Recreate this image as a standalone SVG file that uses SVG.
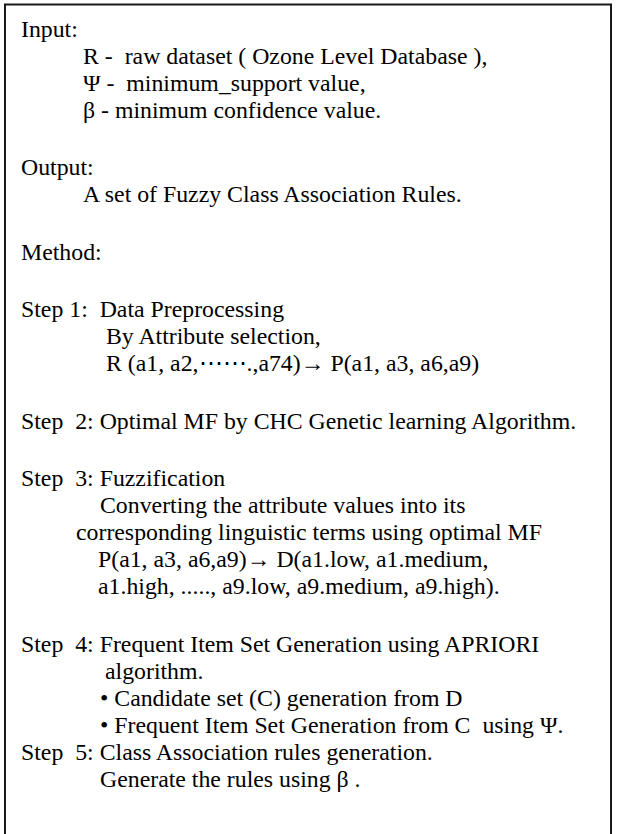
<svg xmlns="http://www.w3.org/2000/svg" width="617" height="834" viewBox="0 0 617 834" xml:space="preserve">
<style>
.t{font-family:"Liberation Serif","Times New Roman",serif;font-size:23.8px;fill:#000;white-space:pre}
.frame{fill:none;stroke:#1a1a1a;stroke-width:2}
</style>
<rect width="617" height="834" fill="#fff"/>
<g id="frame"><path class="frame" d="M5,840 V4.5 H611 V840"/></g>
<g id="input">
<text class="t" x="21" y="37">Input:</text>
<text class="t" x="83" y="64">R -  raw dataset ( Ozone Level Database ),</text>
<text class="t" x="83" y="91">Ψ -  minimum_support value,</text>
<text class="t" x="83" y="118">β - minimum confidence value.</text>
</g>
<g id="output">
<text class="t" x="21" y="175">Output:</text>
<text class="t" x="83" y="202">A set of Fuzzy Class Association Rules.</text>
</g>
<g id="method">
<text class="t" x="21" y="260">Method:</text>
</g>
<g id="step1">
<text class="t" x="21" y="317">Step 1:  Data Preprocessing</text>
<text class="t" x="106" y="344">By Attribute selection,</text>
<text class="t" x="106" y="371">R (a1, a2,⋯⋯.,a74)→ P(a1, a3, a6,a9)</text>
</g>
<g id="step2">
<text class="t" x="21" y="429">Step  2: Optimal MF by CHC Genetic learning Algorithm.</text>
</g>
<g id="step3">
<text class="t" x="21" y="486">Step  3: Fuzzification</text>
<text class="t" x="100" y="513">Converting the attribute values into its</text>
<text class="t" x="76" y="540">corresponding linguistic terms using optimal MF</text>
<text class="t" x="98" y="567">P(a1, a3, a6,a9)→ D(a1.low, a1.medium,</text>
<text class="t" x="98" y="594">a1.high, ....., a9.low, a9.medium, a9.high).</text>
</g>
<g id="step4">
<text class="t" x="21" y="652">Step  4: Frequent Item Set Generation using APRIORI</text>
<text class="t" x="105" y="679">algorithm.</text>
<text class="t" x="100" y="706">• Candidate set (C) generation from D</text>
<text class="t" x="100" y="733">• Frequent Item Set Generation from C  using Ψ.</text>
</g>
<g id="step5">
<text class="t" x="21" y="760">Step  5: Class Association rules generation.</text>
<text class="t" x="100" y="787">Generate the rules using β .</text>
</g>
</svg>
